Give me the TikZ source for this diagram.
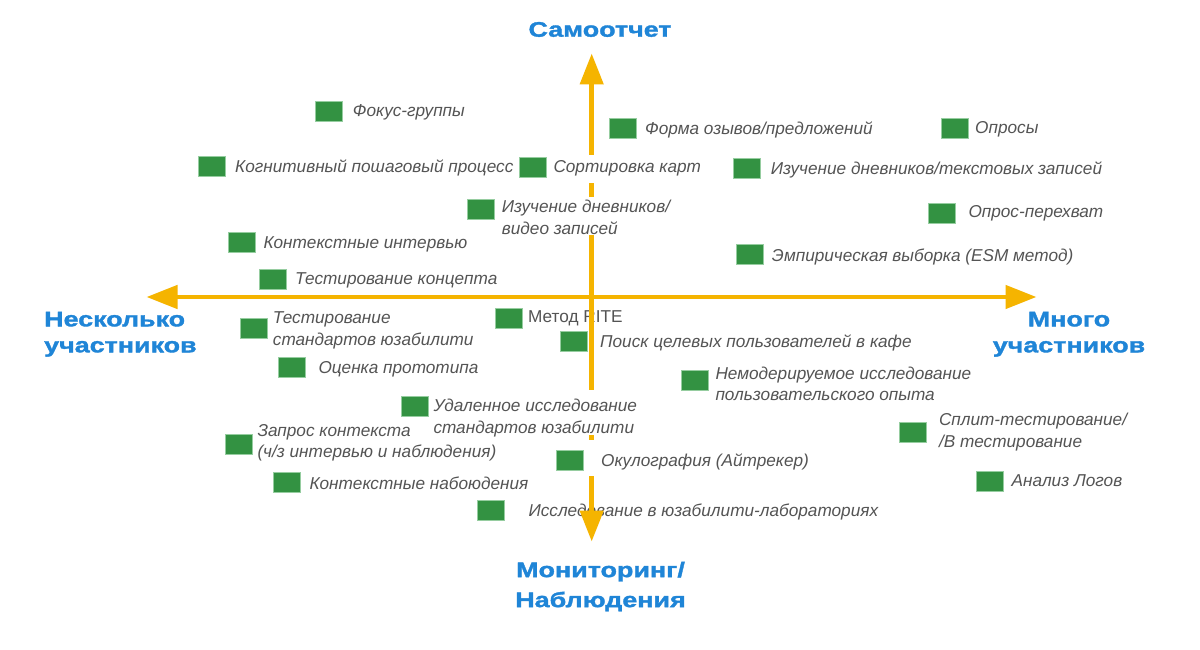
\documentclass[tikz,border=0pt]{standalone}
\usepackage{fontspec}
\setmainfont{Liberation Sans}
\newfontfamily\itemfam{Liberation Sans}
\newfontfamily\axisfam{Liberation Sans}[FakeStretch=1.28,FakeBold=1.6]
\usetikzlibrary{arrows.meta}
\definecolor{axisyellow}{RGB}{245,180,0}
\definecolor{axisblue}{RGB}{31,133,215}
\definecolor{boxgreen}{RGB}{51,146,66}
\definecolor{boxedge}{RGB}{150,205,160}
\definecolor{txtgray}{RGB}{84,84,84}
\tikzset{
  sq/.style={draw=boxedge, line width=0.8pt, fill=boxgreen, minimum width=27pt, minimum height=20pt, inner sep=0pt},
  lbl/.style={anchor=north west, inner sep=0pt, text=txtgray, align=left,
    font=\itemfam\itshape\fontsize{17.2}{21.5}\selectfont},
  lblr/.style={lbl, font=\itemfam\fontsize{17.2}{21.5}\selectfont},
  axlbl/.style={inner sep=0pt, text=axisblue, font=\axisfam\bfseries\fontsize{21}{26}\selectfont},
  axisline/.style={draw=axisyellow, line width=4.6pt},
  tip/.style={-{Triangle[length=31pt,width=23pt]}}
}
\begin{document}
\begin{tikzpicture}[x=1pt,y=-1pt]
\useasboundingbox (0,0) rectangle (1200,650);
\fill[white] (0,0) rectangle (1200,650);

% axis labels
\node[axlbl, anchor=base] (top) at (600,36.7) {Самоотчет};
\node[axlbl, anchor=north west, align=left] (left) at (44,311.7) {Несколько\\участников};
\node[axlbl, anchor=north, align=center] (right) at (1069,311.7) {Много\\участников};
\node[axlbl, anchor=north, align=center, font=\axisfam\bfseries\fontsize{21}{30}\selectfont] (bottom) at (600.5,561.7) {Мониторинг/\\Наблюдения};

% items
\node[sq] (s1) at (329,111) {};
\node[lbl] (t1) at (352.7,104) {Фокус-группы};
\node[sq] (s2) at (212,166.5) {};
\node[lbl] (t2) at (235,160) {Когнитивный пошаговый процесс};
\node[sq] (s3) at (533,167.5) {};
\node[lbl] (t3) at (553.3,160.5) {Сортировка карт};
\node[sq] (s4) at (623,128) {};
\node[lbl] (t4) at (645,121.7) {Форма озывов/предложений};
\node[sq] (s5) at (955,128) {};
\node[lbl] (t5) at (975,121.7) {Опросы};
\node[sq] (s6) at (747,168.5) {};
\node[lbl] (t6) at (770.7,161.7) {Изучение дневников/текстовых записей};
\node[sq] (s7) at (480.5,209.5) {};
\node[lbl] (t7) at (501.7,200) {Изучение дневников/\\видео записей};
\node[sq] (s8) at (941.5,213) {};
\node[lbl] (t8) at (968.3,205) {Опрос-перехват};
\node[sq] (s9) at (750,254) {};
\node[lbl] (t9) at (771.7,248.3) {Эмпирическая выборка (ESM метод)};
\node[sq] (s10) at (242,242.5) {};
\node[lbl] (t10) at (263.3,236) {Контекстные интервью};
\node[sq] (s11) at (273,279.5) {};
\node[lbl] (t11) at (295,272.7) {Тестирование концепта};
\node[sq] (s12) at (253.7,328) {};
\node[lbl] (t12) at (272.7,311.7) {Тестирование\\стандартов юзабилити};
\node[sq] (s13) at (509,318) {};
\node[lblr] (t13) at (528,310) {Метод RITE};
\node[sq] (s14) at (574,341.7) {};
\node[lbl] (t14) at (600,335) {Поиск целевых пользователей в кафе};
\node[sq] (s15) at (292,367.7) {};
\node[lbl] (t15) at (318.3,361.7) {Оценка прототипа};
\node[sq] (s16) at (694.6,380.3) {};
\node[lbl] (t16) at (715.3,366.7) {Немодерируемое исследование\\пользовательского опыта};
\node[sq] (s17) at (415.3,406) {};
\node[lbl] (t17) at (433.3,399.3) {Удаленное исследование\\стандартов юзабилити};
\node[sq] (s18) at (239,444.3) {};
\node[lbl] (t18) at (257.3,424) {Запрос контекста\\(ч/з интервью и наблюдения)};
\node[sq] (s19) at (912.5,432.5) {};
\node[lbl] (t19) at (938.8,413.3) {Сплит-тестирование/\\/B тестирование};
\node[sq] (s20) at (569.7,460) {};
\node[lbl] (t20) at (601,453.3) {Окулография (Айтрекер)};
\node[sq] (s21) at (990,481.3) {};
\node[lbl] (t21) at (1011.5,474) {Анализ Логов};
\node[sq] (s22) at (286.7,482.7) {};
\node[lbl] (t22) at (309.3,476.7) {Контекстные набоюдения};
\node[sq] (s23) at (490.7,510.7) {};
\node[lbl] (t23) at (528.3,503.3) {Исследование в юзабилити-лабораториях};

% axes
\coordinate (L) at (146.5,297);
\coordinate (R) at (1036.5,297);
\coordinate (T) at (591.7,53.5);
\coordinate (B) at (591.7,541.5);
\coordinate (v1) at (591.7,155);
\coordinate (v2) at (591.7,183.5);
\coordinate (v3) at (591.7,196.5);
\coordinate (v4) at (591.7,235);
\coordinate (v5) at (591.7,389.5);
\coordinate (v6) at (591.7,435);
\coordinate (v7) at (591.7,439.5);
\coordinate (v8) at (591.7,476);
\draw[axisline, {Triangle[length=31pt,width=23pt]}-{Triangle[length=31pt,width=23pt]}] (L) -- (R);
\draw[axisline, tip] (v1) -- (T);
\draw[axisline] (v2) -- (v3);
\draw[axisline] (v4) -- (v5);
\draw[axisline] (v6) -- (v7);
\draw[axisline, tip] (v8) -- (B);
\end{tikzpicture}
\end{document}
